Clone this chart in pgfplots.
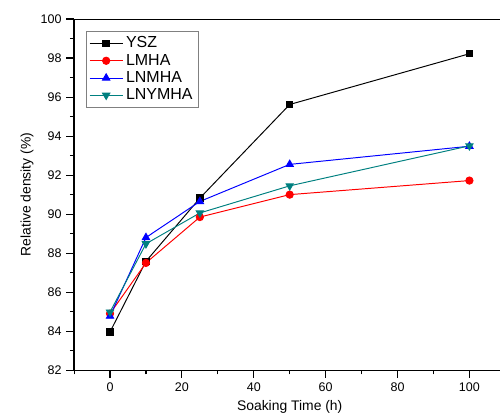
\documentclass[border=0pt]{standalone}
\usepackage{fontspec}
\setmainfont{Liberation Sans}
\usepackage{pgfplots}
\pgfplotsset{compat=1.18}
\definecolor{tealc}{RGB}{0,128,128}
\begin{document}
\begin{tikzpicture}
\begin{axis}[name=ax, scale only axis, width=306.7pt, height=252.7pt,
  xmin=-10, xmax=108.6, ymin=82, ymax=100,
  axis x line*=bottom, axis y line*=left,
  axis line style={-, line width=0.9pt},
  xtick={0,20,...,100}, minor xtick={-10,10,30,50,70,90},
  ytick={82,84,...,100}, minor ytick={83,85,...,99},
  tick align=outside, major tick length=5.5pt, minor tick length=3pt,
  tick style={black, line width=0.8pt},
  /pgf/number format/assume math mode=true,
  ticklabel style={font=\fontsize{9}{11}\selectfont},
  label style={font=\fontsize{11.5}{13}\selectfont},
  every axis x label/.style={at={([yshift=-26.6pt]axis cs:50,82)}, anchor=center},
  every axis y label/.style={at={([xshift=-33.8pt]axis description cs:0,0.5)}, rotate=90, anchor=center},
  xlabel={Soaking Time (h)}, ylabel={Relative density (\%)},
  legend style={at={(rel axis cs:0,1)}, anchor=north west, xshift=8.6pt, yshift=-8.6pt,
    draw=gray, font=\fontsize{11.5}{13}\selectfont, row sep=-1pt, inner sep=2pt},
  legend cell align=left,
  legend image code/.code={\draw[mark repeat=2,mark phase=2] plot coordinates {(0cm,0cm) (0.42cm,0cm) (0.84cm,0cm)};},
  every axis plot/.append style={line width=0.7pt},
]
\addplot[black, mark=square*, mark size=2.3pt] coordinates {(0,83.96) (10,87.58) (25,90.82) (50,95.62) (100,98.22)};
\addlegendentry{YSZ}
\addplot[red, mark=*, mark size=2.6pt] coordinates {(0,84.9) (10,87.5) (25,89.85) (50,91.0) (100,91.72)};
\addlegendentry{LMHA}
\addplot[blue, mark=triangle*, mark size=3pt] coordinates {(0,84.77) (10,88.8) (25,90.65) (50,92.55) (100,93.48)};
\addlegendentry{LNMHA}
\addplot[tealc, mark=triangle*, mark options={rotate=180}, mark size=3pt] coordinates {(0,84.98) (10,88.48) (25,90.06) (50,91.45) (100,93.5)};
\addlegendentry{LNYMHA}
\draw[line width=0.9pt] (rel axis cs:0,1) -- (rel axis cs:1,1);
\end{axis}
\pgfresetboundingbox
\path ([xshift=-53.3pt, yshift=-34.6pt]ax.south west) rectangle ([xshift=0.5pt, yshift=13.7pt]ax.north east);
\end{tikzpicture}
\end{document}
